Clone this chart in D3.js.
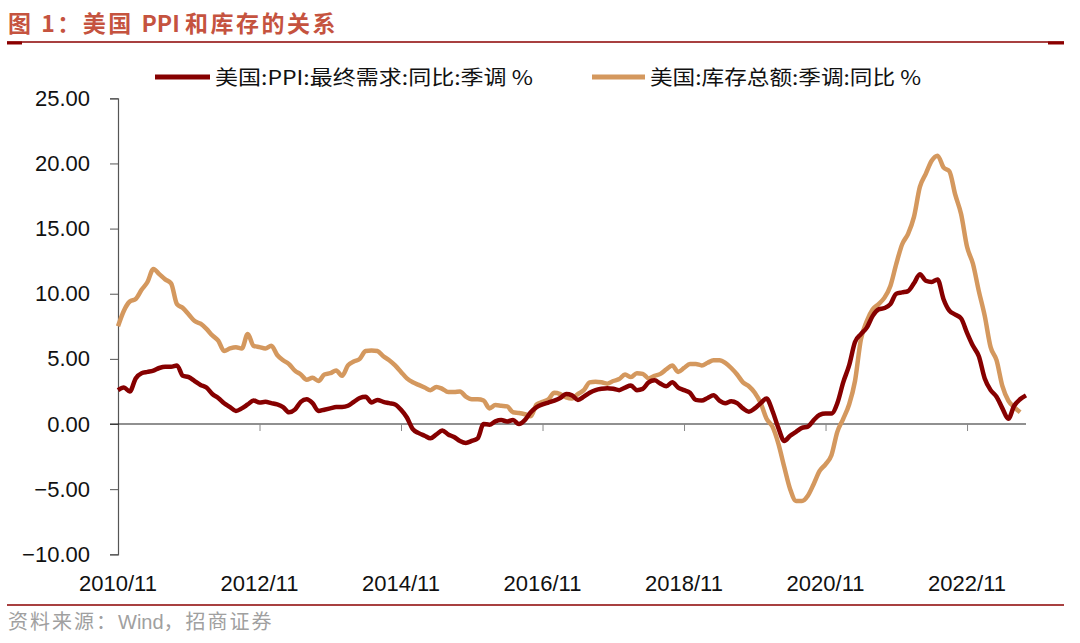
<!DOCTYPE html>
<html><head><meta charset="utf-8">
<script src="https://cdn.jsdelivr.net/npm/d3@7"></script>
<style>
html,body{margin:0;padding:0;background:#fff;}
svg{display:block;}
</style></head>
<body>
<svg id="chart" width="1080" height="643"></svg>
<script>
const startYear = 2010, startMonth = 11;
const tickLabels = ["2010/11","2012/11","2014/11","2016/11","2018/11","2020/11","2022/11"];
const yTicks = [-10,-5,0,5,10,15,20,25];
const seriesNames = ["美国:PPI:最终需求:同比:季调 %","美国:库存总额:季调:同比 %"];
const ppi = [2.6,2.8,2.5,3.5,3.9,4.0,4.1,4.3,4.4,4.4,4.5,3.7,3.6,3.3,3.0,2.8,2.3,2.0,1.6,1.3,
1.0,1.2,1.5,1.8,1.65,1.7,1.6,1.5,1.3,0.9,1.1,1.7,1.9,1.6,1.0,1.1,1.2,1.3,1.3,1.4,
1.7,2.0,2.1,1.65,1.85,1.7,1.6,1.5,1.1,0.5,-0.4,-0.7,-0.9,-1.1,-0.8,-0.5,-0.8,-1.0,-1.3,-1.45,
-1.3,-1.1,0.0,-0.05,0.2,0.3,0.2,0.3,0.0,0.3,0.9,1.3,1.5,1.65,1.8,2.0,2.3,2.2,1.85,2.1,
2.4,2.6,2.7,2.75,2.7,2.6,2.8,2.95,2.6,2.7,3.2,3.35,3.1,2.9,3.2,2.8,2.6,2.4,1.85,1.8,
2.0,2.2,1.8,1.6,1.75,1.6,1.2,0.95,1.2,1.6,1.95,1.0,-0.3,-1.3,-0.9,-0.6,-0.3,-0.2,0.3,0.7,
0.8,0.8,1.6,3.2,4.5,6.3,6.9,7.4,8.3,8.8,8.9,9.2,10.0,10.1,10.2,10.8,11.5,11.0,10.9,11.1,
9.6,8.7,8.4,8.1,7.0,6.0,5.2,3.5,2.6,2.1,1.2,0.4,1.4,1.9,2.2];
const inventory = [7.5,8.7,9.4,9.6,10.3,10.9,11.9,11.5,11.1,10.8,9.2,8.9,8.4,7.9,7.7,7.3,6.8,6.4,5.6,5.8,
5.9,5.8,6.9,6.0,5.9,5.8,6.0,5.3,4.9,4.6,4.1,3.8,3.4,3.55,3.3,3.8,3.9,4.1,3.7,4.5,
4.8,5.0,5.6,5.65,5.6,5.2,4.9,4.5,4.0,3.5,3.2,3.0,2.8,2.6,2.85,2.7,2.45,2.45,2.5,2.1,
1.9,1.9,1.8,1.2,1.45,1.4,1.35,0.9,0.85,0.75,0.6,1.5,1.7,1.9,2.4,2.3,2.05,1.95,2.3,2.6,
3.2,3.25,3.2,3.1,3.3,3.45,3.8,3.6,3.9,3.85,3.5,3.7,3.85,4.2,4.5,4.0,4.3,4.6,4.6,4.5,
4.7,4.9,4.9,4.7,4.3,3.8,3.2,2.9,2.4,1.6,0.4,-0.2,-1.5,-3.3,-5.0,-5.9,-5.9,-5.5,-4.6,-3.6,
-3.1,-2.4,-0.6,0.4,1.5,3.3,6.5,7.9,8.8,9.2,9.7,10.6,12.3,13.8,14.6,15.9,18.2,19.2,20.2,20.6,
19.7,19.4,17.6,16.1,13.6,12.3,10.2,8.3,5.9,4.9,2.9,1.8,1.3,0.9];

const colors = ["#860000","#D4985E"];
const svg = d3.select("#chart");
const nMonths = 154;
const x = d3.scaleLinear().domain([0, nMonths]).range([118, 1026]);
const y = d3.scaleLinear().domain([-10, 25]).range([554.3, 98.3]);
const numFont = "'Liberation Sans', Arial, sans-serif";
const cjkFont = "'Noto Sans CJK SC', 'Liberation Sans', sans-serif";

// Title
const title = svg.append("text").attr("x", 8).attr("y", 32)
  .attr("font-family", cjkFont).attr("font-weight", "bold").attr("font-size", 23)
  .attr("fill", "#C5533F");
title.append("tspan").attr("letter-spacing", 2.5).text("图 1：美国 ");
title.append("tspan").text("PPI ");
title.append("tspan").attr("letter-spacing", 2.5).text("和库存的关系");
svg.append("line").attr("x1", 7).attr("x2", 1064).attr("y1", 42).attr("y2", 42)
  .attr("stroke", "#8B0000").attr("stroke-width", 1.6);
svg.append("line").attr("x1", 7).attr("x2", 22).attr("y1", 43).attr("y2", 43)
  .attr("stroke", "#8B0000").attr("stroke-width", 3);
svg.append("line").attr("x1", 1048).attr("x2", 1064).attr("y1", 43).attr("y2", 43)
  .attr("stroke", "#8B0000").attr("stroke-width", 3);

// Legend
const legendLine = [[155, 210], [592, 645]];
const legendText = [[215, 318], [650, 271]];
seriesNames.forEach((name, k) => {
  svg.append("line").attr("x1", legendLine[k][0]).attr("x2", legendLine[k][1])
    .attr("y1", 77).attr("y2", 77).attr("stroke", colors[k]).attr("stroke-width", 5);
  svg.append("text").attr("x", legendText[k][0]).attr("y", 85)
    .attr("font-family", cjkFont).attr("font-size", 20).attr("fill", "#111")
    .attr("textLength", legendText[k][1]).attr("lengthAdjust", "spacingAndGlyphs").text(name);
});

// Y axis
const yAxis = d3.axisLeft(y).tickValues(yTicks).tickSize(8).tickPadding(20)
  .tickFormat(d3.format(".2f"));
const gy = svg.append("g").attr("transform", "translate(118,0)").call(yAxis);
gy.select(".domain").attr("stroke", "#555").attr("stroke-width", 1.2);
gy.selectAll(".tick line").attr("stroke", "#555");
gy.selectAll("text").attr("font-family", numFont).attr("font-size", 22).attr("fill", "#111");

// X axis on zero line
const tickIdx = tickLabels.map((_, i) => i * 24);
const xAxis = d3.axisBottom(x).tickValues(tickIdx).tickSize(7).tickFormat(() => "");
const gx = svg.append("g").attr("transform", `translate(0,${y(0)})`).call(xAxis);
gx.select(".domain").attr("stroke", "#222").attr("stroke-width", 1.2)
  .attr("d", `M110,0H${x(nMonths)}`);
gx.selectAll(".tick line").attr("stroke", "#888");
gx.selectAll(".tick").filter(d => d === 0).select("line").remove();

// X labels at bottom
svg.append("g").selectAll("text").data(tickLabels).join("text")
  .attr("x", (d, i) => x(tickIdx[i])).attr("y", 591)
  .attr("text-anchor", "middle").attr("font-family", numFont).attr("font-size", 22)
  .attr("fill", "#111").text(d => d);

// Lines
const line = d3.line().x((d, i) => x(i)).y(d => y(d)).curve(d3.curveMonotoneX);
svg.append("path").datum(inventory).attr("d", line).attr("fill", "none")
  .attr("stroke", colors[1]).attr("stroke-width", 4.5).attr("stroke-linejoin", "round");
svg.append("path").datum(ppi).attr("d", line).attr("fill", "none")
  .attr("stroke", colors[0]).attr("stroke-width", 4.5).attr("stroke-linejoin", "round");

// Bottom rule and source
svg.append("line").attr("x1", 7).attr("x2", 1064).attr("y1", 605).attr("y2", 605)
  .attr("stroke", "#8B0000").attr("stroke-width", 1.6);
const src = svg.append("text").attr("x", 8).attr("y", 629)
  .attr("font-family", cjkFont).attr("font-size", 20).attr("fill", "#A0A0A0");
src.append("tspan").attr("letter-spacing", 2).text("资料来源：");
src.append("tspan").attr("font-family", numFont).text("Wind");
src.append("tspan").attr("letter-spacing", 2).text("，招商证券");
</script>
</body></html>
